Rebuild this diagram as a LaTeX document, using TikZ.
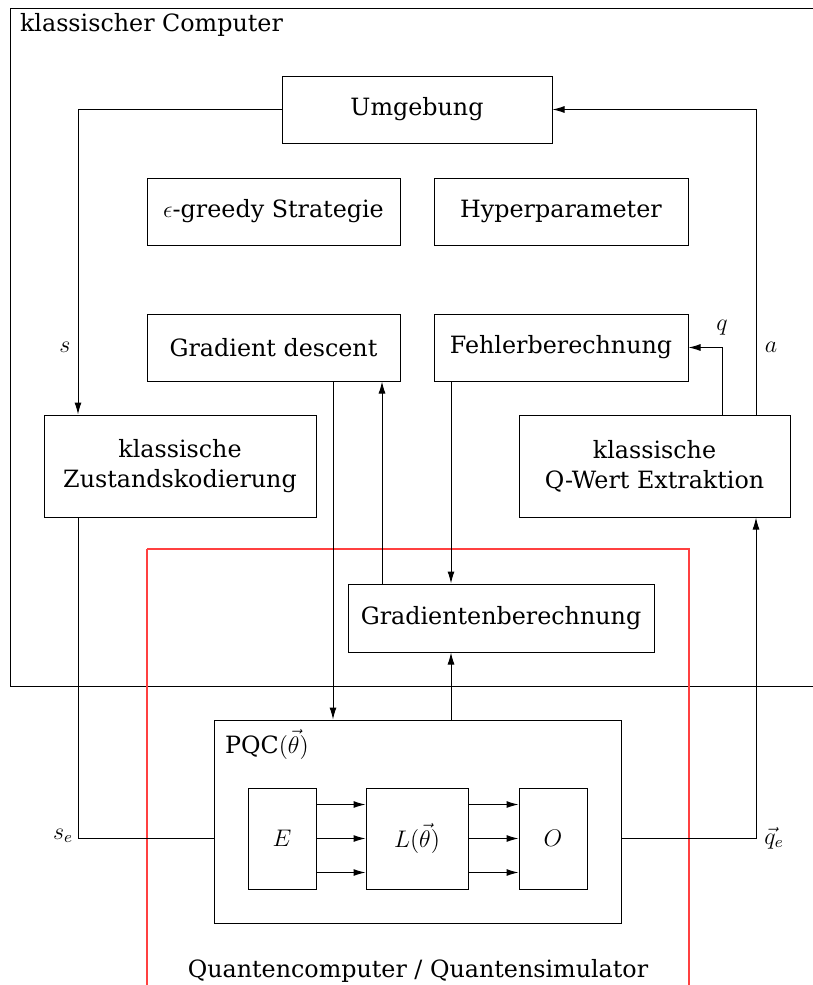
\documentclass[tikz,border=0pt]{standalone}
\usepackage{fontspec}
\setmainfont{DejaVu Serif}
\usetikzlibrary{arrows.meta}

\begin{document}
\begin{tikzpicture}[x=0.5pt,y=-0.5pt,
  txt/.style={font=\fontsize{11.9}{15}\selectfont},
  blk/.style={draw, line width=0.5pt, inner sep=0pt, txt, align=center},
  arr/.style={-{Latex[length=6pt,width=3.5pt]}, line width=0.5pt},
  ln/.style={line width=0.5pt},
  qframe/.style={draw=red!75, line width=0.8pt}]
\useasboundingbox (0,0) rectangle (813,985);
\clip (0,0) rectangle (813,985);

% classical computer frame
\draw[ln] (10,8) rectangle (840,686);
\node[txt, anchor=base west] (kc) at (13,32) {klassischer Computer};

% classical blocks
\node[blk, minimum width=135pt, minimum height=33.5pt] (umg) at (417,109.5) {Umgebung};
\node[blk, minimum width=126.5pt, minimum height=33.5pt] (eps) at (273.5,211.5) {$\epsilon$-greedy Strategie};
\node[blk, minimum width=127pt, minimum height=33.5pt] (hyp) at (561,211.5) {Hyperparameter};
\node[blk, minimum width=126.5pt, minimum height=33.5pt] (gd) at (273.5,347.5) {Gradient descent};
\node[blk, minimum width=127pt, minimum height=33.5pt] (fe) at (561,347.5) {Fehlerberechnung};
\node[blk, minimum width=136pt, minimum height=51pt] (zus) at (180,466) {klassische\\Zustandskodierung};
\node[blk, minimum width=135.5pt, minimum height=51pt] (qw) at (654.5,466) {klassische\\Q-Wert Extraktion};
\node[blk, minimum width=153pt, minimum height=34pt] (gb) at (501,618) {Gradientenberechnung};

% quantum part
\draw[qframe] (147,549) -- (147,1000);
\draw[qframe] (147,549) -- (689,549) -- (689,1000);
\node[txt] (qc) at (418,971) {Quantencomputer / Quantensimulator};

\node[blk, minimum width=203.5pt, minimum height=101.5pt] (pqc) at (417.5,821.5) {};
\node[txt, anchor=base west] (pqcl) at (218,753) {PQC$(\vec{\theta})$};
\node[blk, minimum width=34pt, minimum height=50.5pt] (E) at (282,838.5) {$E$};
\node[blk, minimum width=51pt, minimum height=50.5pt] (L) at (417,838.5) {$L(\vec{\theta})$};
\node[blk, minimum width=34pt, minimum height=50.5pt] (O) at (553,838.5) {$O$};

\foreach \dy in {-17pt,0pt,17pt}{
  \draw[arr] ([yshift=\dy]E.east) -- ([yshift=\dy]L.west);
  \draw[arr] ([yshift=\dy]L.east) -- ([yshift=\dy]O.west);
}

% x positions of the vertical connectors
\coordinate (xs) at (78,0);
\coordinate (xa) at (756,0);
\coordinate (xq) at (722,0);
\coordinate (xgd) at (333,0);
\coordinate (xgu) at (382,0);
\coordinate (xf) at (451,0);

% connectors
\draw[arr] (umg.west) -| (zus.north -| xs);
\draw[arr] (qw.north -| xa) |- (umg.east);
\draw[arr] (qw.north -| xq) |- (fe.east);
\draw[arr] (gd.south -| xgd) -- (pqc.north -| xgd);
\draw[arr] (gb.north -| xgu) -- (gd.south -| xgu);
\draw[arr] (fe.south -| xf) -- (gb.north -| xf);
\draw[arr] (pqc.north -| xf) -- (gb.south -| xf);
\draw[ln] (zus.south -| xs) |- (pqc.west |- E.center);
\draw[arr] (pqc.east |- E.center) -| (qw.south -| xa);

% connector labels
\node[txt] (ls) at (65,347) {$s$};
\node[txt] (la) at (771,347) {$a$};
\node[txt] (lq) at (722,328) {$q$};
\node[txt] (lse) at (63,836) {$s_e$};
\node[txt] (lqe) at (774,838) {$\vec{q}_e$};
\end{tikzpicture}
\end{document}
